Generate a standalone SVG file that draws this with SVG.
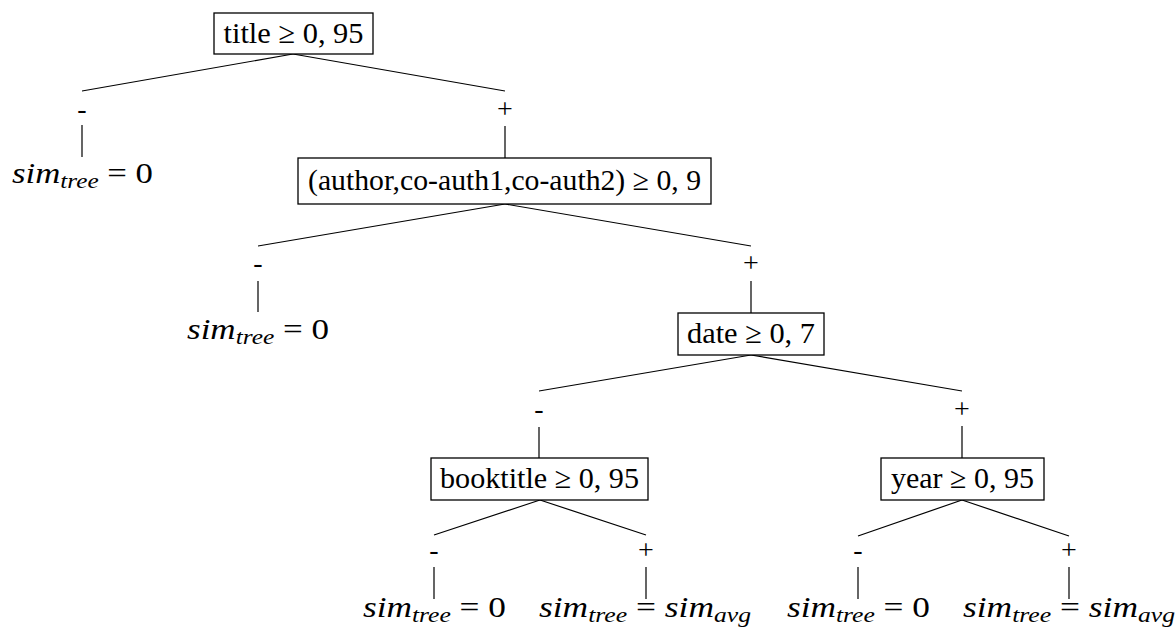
<svg xmlns="http://www.w3.org/2000/svg" width="1176" height="632" viewBox="0 0 1176 632">
<style>
.t{font-family:"Liberation Serif","Times New Roman",serif;font-size:30px;fill:#000;text-anchor:middle}
.l{font-size:29px}
.e{font-size:28px}
.i{font-style:italic}
.s{font-size:21px}
.box{fill:#fff;stroke:#000;stroke-width:1.3}
.ln{stroke:#000;stroke-width:1.2;fill:none}
</style>
<rect width="1176" height="632" fill="#fff"/>
<g id="connectors">
  <path class="ln" d="M293,54 L82,91 M82,125 V157"/>
  <text class="t e" x="82" y="118">-</text>
  <path class="ln" d="M293,54 L505,91 M505,126 V158"/>
  <text class="t e" x="505" y="118">+</text>
  <path class="ln" d="M505,204 L258,246 M258,281 V312"/>
  <text class="t e" x="258" y="272">-</text>
  <path class="ln" d="M505,204 L751,246 M751,281 V313"/>
  <text class="t e" x="751" y="272">+</text>
  <path class="ln" d="M751,355 L539,391 M539,427 V458"/>
  <text class="t e" x="539" y="418">-</text>
  <path class="ln" d="M751,355 L962,391 M962,426 V458"/>
  <text class="t e" x="962" y="418">+</text>
  <path class="ln" d="M540,500 L434,535 M434,567 V599"/>
  <text class="t e" x="434" y="559">-</text>
  <path class="ln" d="M540,500 L646,535 M646,567 V599"/>
  <text class="t e" x="646" y="559">+</text>
  <path class="ln" d="M962,500 L858,536 M858,567 V599"/>
  <text class="t e" x="858" y="559">-</text>
  <path class="ln" d="M962,500 L1069,536 M1069,567 V599"/>
  <text class="t e" x="1069" y="559">+</text>
</g>
<g id="n_title">
  <rect class="box" x="214" y="13" width="159" height="41"/>
  <text class="t" x="293.5" y="43" textLength="140" lengthAdjust="spacingAndGlyphs">title ≥ 0, 95</text>
</g>
<g id="n_author">
  <rect class="box" x="298" y="158" width="413" height="46"/>
  <text class="t" x="504.5" y="190" textLength="393" lengthAdjust="spacingAndGlyphs">(author,co-auth1,co-auth2) ≥ 0, 9</text>
</g>
<g id="n_date">
  <rect class="box" x="678" y="313" width="146" height="42"/>
  <text class="t" x="751" y="343" textLength="128" lengthAdjust="spacingAndGlyphs">date ≥ 0, 7</text>
</g>
<g id="n_booktitle">
  <rect class="box" x="431" y="458" width="217" height="42"/>
  <text class="t" x="539.5" y="488" textLength="199" lengthAdjust="spacingAndGlyphs">booktitle ≥ 0, 95</text>
</g>
<g id="n_year">
  <rect class="box" x="881" y="458" width="163" height="42"/>
  <text class="t" x="962.5" y="488" textLength="143" lengthAdjust="spacingAndGlyphs">year ≥ 0, 95</text>
</g>
<g id="leaf1">
  <text class="t l" x="82.5" y="183" textLength="141" lengthAdjust="spacingAndGlyphs"><tspan class="i">sim</tspan><tspan class="i s" dy="5">tree</tspan><tspan dy="-5"> = 0</tspan></text>
</g>
<g id="leaf2">
  <text class="t l" x="258" y="339" textLength="142" lengthAdjust="spacingAndGlyphs"><tspan class="i">sim</tspan><tspan class="i s" dy="5">tree</tspan><tspan dy="-5"> = 0</tspan></text>
</g>
<g id="leaf3">
  <text class="t l" x="434.5" y="617" textLength="143" lengthAdjust="spacingAndGlyphs"><tspan class="i">sim</tspan><tspan class="i s" dy="5">tree</tspan><tspan dy="-5"> = 0</tspan></text>
</g>
<g id="leaf4">
  <text class="t l" x="645" y="617" textLength="212" lengthAdjust="spacingAndGlyphs"><tspan class="i">sim</tspan><tspan class="i s" dy="5">tree</tspan><tspan dy="-5"> = </tspan><tspan class="i">sim</tspan><tspan class="i s" dy="5">avg</tspan></text>
</g>
<g id="leaf5">
  <text class="t l" x="858.5" y="617" textLength="143" lengthAdjust="spacingAndGlyphs"><tspan class="i">sim</tspan><tspan class="i s" dy="5">tree</tspan><tspan dy="-5"> = 0</tspan></text>
</g>
<g id="leaf6">
  <text class="t l" x="1069" y="617" textLength="212" lengthAdjust="spacingAndGlyphs"><tspan class="i">sim</tspan><tspan class="i s" dy="5">tree</tspan><tspan dy="-5"> = </tspan><tspan class="i">sim</tspan><tspan class="i s" dy="5">avg</tspan></text>
</g>
</svg>
